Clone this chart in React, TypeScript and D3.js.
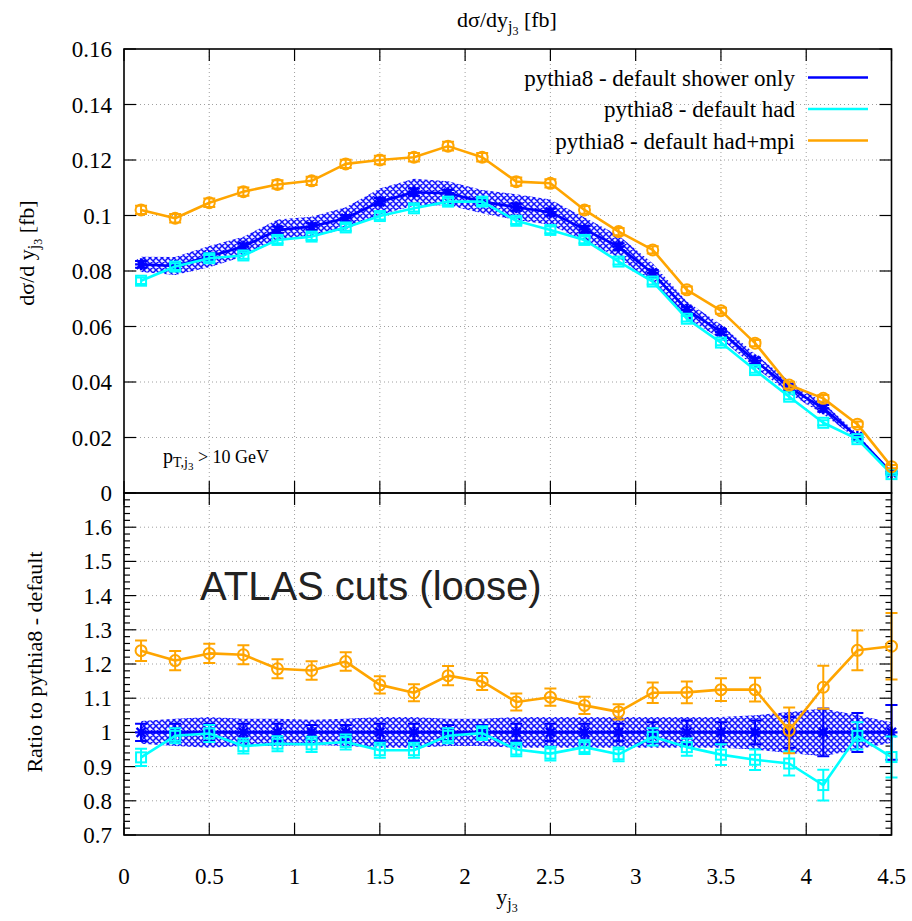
import React from "react";
import * as d3 from "d3";

const X = [0.1, 0.3, 0.5, 0.7, 0.9, 1.1, 1.3, 1.5, 1.7, 1.9, 2.1, 2.3, 2.5, 2.7, 2.9, 3.1, 3.3, 3.5, 3.7, 3.9, 4.1, 4.3, 4.5];

const shower = [0.0824, 0.0818, 0.0852, 0.0888, 0.0948, 0.096, 0.099, 0.105, 0.1084, 0.108, 0.105, 0.103, 0.1012, 0.095, 0.0888, 0.0792, 0.066, 0.0581, 0.0477, 0.0381, 0.0305, 0.0203, 0.0073];
const had = [0.0765, 0.0816, 0.0846, 0.0856, 0.0912, 0.0924, 0.0957, 0.0998, 0.1026, 0.105, 0.105, 0.0981, 0.0948, 0.0912, 0.0834, 0.0762, 0.0628, 0.0542, 0.0443, 0.0347, 0.0253, 0.0194, 0.0068];
const mpi = [0.102, 0.099, 0.1046, 0.1086, 0.1112, 0.1125, 0.1186, 0.12, 0.121, 0.125, 0.121, 0.1122, 0.1116, 0.102, 0.0942, 0.0876, 0.0732, 0.0657, 0.054, 0.0389, 0.0341, 0.0248, 0.0095];

// absolute errors in top panel
const showerErr = [0.0012, 0.0012, 0.0012, 0.0012, 0.0012, 0.0012, 0.0012, 0.0013, 0.0013, 0.0013, 0.0013, 0.0013, 0.0013, 0.0012, 0.0012, 0.0012, 0.0011, 0.001, 0.001, 0.001, 0.0012, 0.0009, 0.0005];
const hadErr = [0.0012, 0.0012, 0.0012, 0.0012, 0.0012, 0.0012, 0.0012, 0.0012, 0.0012, 0.0012, 0.0012, 0.0012, 0.0012, 0.0012, 0.0011, 0.0011, 0.001, 0.001, 0.001, 0.0009, 0.0009, 0.0008, 0.0004];
const mpiErr = [0.0015, 0.0015, 0.0015, 0.0015, 0.0015, 0.0015, 0.0015, 0.0015, 0.0015, 0.0016, 0.0015, 0.0015, 0.0015, 0.0014, 0.0013, 0.0013, 0.0012, 0.0011, 0.0011, 0.0012, 0.0012, 0.001, 0.0006];

// ratio panel
const ratioShower = [1, 1, 1, 1, 1, 1, 1, 1, 1, 1, 1, 1, 1, 1, 1, 1, 1, 1, 1, 1, 1, 1, 1];
const ratioHad = [0.927, 0.99, 0.997, 0.96, 0.967, 0.965, 0.972, 0.948, 0.948, 0.99, 0.998, 0.95, 0.938, 0.957, 0.936, 0.987, 0.957, 0.935, 0.92, 0.909, 0.846, 0.99, 0.928];
const ratioMpi = [1.239, 1.21, 1.231, 1.227, 1.186, 1.181, 1.207, 1.139, 1.116, 1.166, 1.149, 1.089, 1.103, 1.079, 1.06, 1.116, 1.117, 1.125, 1.125, 1.006, 1.132, 1.24, 1.252];
const ratioShowerErr = [0.025, 0.025, 0.025, 0.025, 0.025, 0.022, 0.022, 0.025, 0.025, 0.022, 0.022, 0.025, 0.025, 0.025, 0.025, 0.03, 0.035, 0.03, 0.035, 0.045, 0.07, 0.057, 0.08];
const ratioHadErr = [0.025, 0.022, 0.025, 0.022, 0.022, 0.022, 0.022, 0.022, 0.022, 0.022, 0.02, 0.02, 0.02, 0.02, 0.02, 0.025, 0.025, 0.03, 0.03, 0.035, 0.045, 0.04, 0.06];
const ratioMpiErr = [0.03, 0.028, 0.028, 0.028, 0.028, 0.027, 0.027, 0.025, 0.025, 0.028, 0.025, 0.025, 0.025, 0.025, 0.022, 0.03, 0.032, 0.033, 0.035, 0.067, 0.063, 0.058, 0.097];

// scale-variation band (relative half width)
const bandHalf = [0.033, 0.04, 0.045, 0.04, 0.04, 0.037, 0.04, 0.045, 0.045, 0.04, 0.04, 0.045, 0.045, 0.045, 0.045, 0.045, 0.045, 0.045, 0.05, 0.06, 0.07, 0.05, 0.03];

const xTicks = [0, 0.5, 1, 1.5, 2, 2.5, 3, 3.5, 4, 4.5];
const topTicks = [0, 0.02, 0.04, 0.06, 0.08, 0.1, 0.12, 0.14, 0.16];
const ratioTicks = [0.7, 0.8, 0.9, 1, 1.1, 1.2, 1.3, 1.4, 1.5, 1.6];
const ratioMinor = d3.range(0.72, 1.7, 0.02);

const legendLabels = ["pythia8 - default shower only", "pythia8 - default had", "pythia8 - default had+mpi"];
const BLUE = "#0000ff";
const CYAN = "#00ffff";
const ORANGE = "#ffa500";

const SERIF: React.CSSProperties = { fontFamily: "Liberation Serif" };
const SANS: React.CSSProperties = { fontFamily: "Liberation Sans" };

const L = 124, R = 891.5;
const T1 = 49, B1 = 493;
const T2 = 493, B2 = 835;

const x = d3.scaleLinear().domain([0, 4.5]).range([L, R]);
const yTop = d3.scaleLinear().domain([0, 0.16]).range([B1, T1]);
const yRat = d3.scaleLinear().domain([0.7, 1.7]).range([B2, T2]);

function fmt(v: number) {
  return String(+v.toFixed(2));
}

type Marker = "star" | "square" | "circle";

function MarkerShape({ cx, cy, type, color }: { cx: number; cy: number; type: Marker; color: string }) {
  const s = 6;
  if (type === "star") {
    return (
      <path
        d={`M${cx - s},${cy}L${cx + s},${cy}M${cx},${cy - s}L${cx},${cy + s}M${cx - s * 0.75},${cy - s * 0.75}L${cx + s * 0.75},${cy + s * 0.75}M${cx - s * 0.75},${cy + s * 0.75}L${cx + s * 0.75},${cy - s * 0.75}`}
        stroke={color}
        strokeWidth={2.4}
        fill="none"
      />
    );
  }
  if (type === "square") {
    return <rect x={cx - 5} y={cy - 5} width={10} height={10} stroke={color} strokeWidth={2} fill="none" />;
  }
  return <circle cx={cx} cy={cy} r={5.5} stroke={color} strokeWidth={2} fill="none" />;
}

function Series({ vals, errs, y, color, marker }: { vals: number[]; errs: number[]; y: d3.ScaleLinear<number, number>; color: string; marker: Marker }) {
  const line = d3.line<number>().x((_, i) => x(X[i])).y((v) => y(v));
  return (
    <g>
      <path d={line(vals) || ""} stroke={color} strokeWidth={2.6} fill="none" strokeLinejoin="round" />
      {vals.map((v, i) => {
        const cx = x(X[i]);
        const y0 = y(v - errs[i]);
        const y1 = y(v + errs[i]);
        return (
          <g key={i}>
            <path d={`M${cx},${y0}L${cx},${y1}M${cx - 6},${y0}L${cx + 6},${y0}M${cx - 6},${y1}L${cx + 6},${y1}`} stroke={color} strokeWidth={2} fill="none" />
            <MarkerShape cx={cx} cy={y(v)} type={marker} color={color} />
          </g>
        );
      })}
    </g>
  );
}

function Band({ center, half, y, relative }: { center: number[]; half: number[]; y: d3.ScaleLinear<number, number>; relative: boolean }) {
  const area = d3
    .area<number>()
    .x((_, i) => x(X[i]))
    .y0((v, i) => y(relative ? v * (1 - half[i]) : v - half[i]))
    .y1((v, i) => y(relative ? v * (1 + half[i]) : v + half[i]));
  return <path d={area(center) || ""} fill="url(#hatch)" stroke="none" />;
}

function Grid({ y, yt }: { y: d3.ScaleLinear<number, number>; yt: number[] }) {
  const [y0, y1] = y.range();
  return (
    <g stroke="#a0a0a0" strokeWidth={1} strokeDasharray="1,3" fill="none">
      {xTicks.slice(1, -1).map((t) => (
        <line key={"v" + t} x1={x(t)} x2={x(t)} y1={y0} y2={y1} />
      ))}
      {yt.map((t) => (
        <line key={"h" + t} x1={L} x2={R} y1={y(t)} y2={y(t)} />
      ))}
    </g>
  );
}

function Ticks({ y, major, minor, labels }: { y: d3.ScaleLinear<number, number>; major: number[]; minor: number[]; labels: number[] }) {
  const [yb, yt] = y.range();
  return (
    <g>
      <g stroke="#000" strokeWidth={1.2}>
        {major.map((t) => (
          <g key={"m" + t}>
            <line x1={L} x2={L + 12} y1={y(t)} y2={y(t)} />
            <line x1={R} x2={R - 12} y1={y(t)} y2={y(t)} />
          </g>
        ))}
        {minor.map((t) => (
          <g key={"n" + t}>
            <line x1={L} x2={L + 6} y1={y(t)} y2={y(t)} />
            <line x1={R} x2={R - 6} y1={y(t)} y2={y(t)} />
          </g>
        ))}
        {xTicks.map((t) => (
          <g key={"x" + t}>
            <line x1={x(t)} x2={x(t)} y1={yb} y2={yb - 12} />
            <line x1={x(t)} x2={x(t)} y1={yt} y2={yt + 12} />
          </g>
        ))}
      </g>
      {labels.map((t) => (
        <text key={"l" + t} x={L - 12} y={y(t) + 8} style={SERIF} fontSize={23} textAnchor="end" fill="#000">
          {fmt(t)}
        </text>
      ))}
    </g>
  );
}

export default function App() {
  const minorRatio = ratioMinor.filter((v) => Math.abs(v * 10 - Math.round(v * 10)) > 0.01);
  return (
    <div style={{ position: "absolute", left: 0, top: 0 }}>
      <svg width={912} height={921} style={{ display: "block", background: "#fff" }}>
        <defs>
          <pattern id="hatch" patternUnits="userSpaceOnUse" width={6} height={6}>
            <rect width={6} height={6} fill="#f0f0ff" />
            <path d="M0,0L6,6M6,0L0,6M-1,5L1,7M5,-1L7,1M-1,1L1,-1M5,7L7,5" stroke="#1010ff" strokeWidth={1.5} fill="none" />
          </pattern>
        </defs>

        {/* title */}
        <text x={507} y={27} style={SERIF} fontSize={22} textAnchor="middle">
          dσ/dy<tspan fontSize={16} dy={5}>j</tspan>
          <tspan fontSize={12} dy={3}>3</tspan>
          <tspan dy={-8}> [fb]</tspan>
        </text>

        {/* top panel */}
        <Grid y={yTop} yt={topTicks.slice(1, -1)} />
        <Ticks y={yTop} major={topTicks} minor={[]} labels={topTicks} />
        <Band center={shower} half={bandHalf} y={yTop} relative={true} />
        <Series vals={shower} errs={showerErr} y={yTop} color={BLUE} marker="star" />
        <Series vals={had} errs={hadErr} y={yTop} color={CYAN} marker="square" />
        <Series vals={mpi} errs={mpiErr} y={yTop} color={ORANGE} marker="circle" />

        {/* legend */}
        {legendLabels.map((lab, i) => (
          <g key={lab}>
            <text x={795} y={85.5 + i * 31.5} style={SERIF} fontSize={23} textAnchor="end">
              {lab}
            </text>
            <line x1={808} x2={868} y1={77.5 + i * 31.5} y2={77.5 + i * 31.5} stroke={[BLUE, CYAN, ORANGE][i]} strokeWidth={2.6} />
          </g>
        ))}

        <text x={163} y={463} style={SERIF} fontSize={20}>
          p<tspan fontSize={14} dy={4}>T,j</tspan>
          <tspan fontSize={11} dy={3}>3</tspan>
          <tspan fontSize={18} dy={-7}> &gt; 10 GeV</tspan>
        </text>

        <text x={0} y={0} style={SERIF} fontSize={22} textAnchor="middle" transform="translate(34 253) rotate(-90)">
          dσ/d y<tspan fontSize={16} dy={5}>j</tspan>
          <tspan fontSize={12} dy={3}>3</tspan>
          <tspan dy={-8}> [fb]</tspan>
        </text>

        {/* bottom panel */}
        <Grid y={yRat} yt={ratioTicks.slice(1)} />
        <Ticks y={yRat} major={ratioTicks} minor={minorRatio} labels={ratioTicks} />
        <Band center={ratioShower} half={bandHalf} y={yRat} relative={false} />
        <Series vals={ratioShower} errs={ratioShowerErr} y={yRat} color={BLUE} marker="star" />
        <Series vals={ratioHad} errs={ratioHadErr} y={yRat} color={CYAN} marker="square" />
        <Series vals={ratioMpi} errs={ratioMpiErr} y={yRat} color={ORANGE} marker="circle" />

        <text x={200} y={600} style={SANS} fontSize={40} fill="#222">
          ATLAS cuts (loose)
        </text>

        <text x={0} y={0} style={SERIF} fontSize={22} textAnchor="middle" transform="translate(42 662) rotate(-90)">
          Ratio to pythia8 - default
        </text>

        {/* frames */}
        <rect x={L} y={T1} width={R - L} height={B1 - T1} fill="none" stroke="#000" strokeWidth={1.6} />
        <rect x={L} y={T2} width={R - L} height={B2 - T2} fill="none" stroke="#000" strokeWidth={1.6} />

        {/* x tick labels */}
        {xTicks.map((t) => (
          <text key={t} x={x(t)} y={884} style={SERIF} fontSize={23} textAnchor="middle">
            {fmt(t)}
          </text>
        ))}
        <text x={507} y={904} style={SERIF} fontSize={22} textAnchor="middle">
          y<tspan fontSize={16} dy={5}>j</tspan>
          <tspan fontSize={12} dy={3}>3</tspan>
        </text>
      </svg>
    </div>
  );
}
